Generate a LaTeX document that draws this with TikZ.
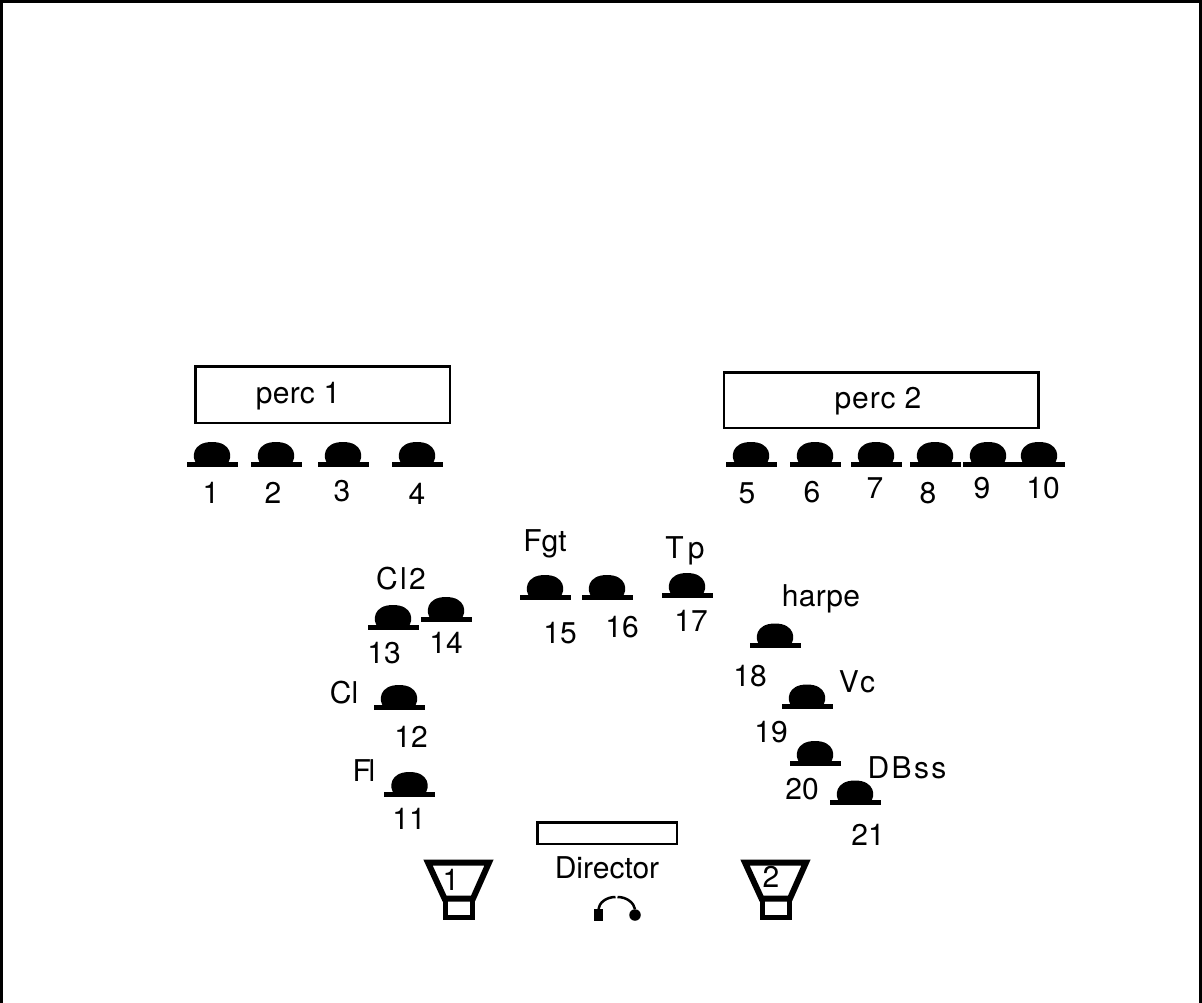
\documentclass[tikz,border=0pt]{standalone}
\usepackage{fontspec}
\setmainfont{TeX Gyre Heros}
\newcommand{\spaced}[2]{{\addfontfeature{LetterSpace=#1}#2}}

\begin{document}
\begin{tikzpicture}[
    x=1pt, y=-1pt,
    every node/.style = {inner sep=0pt, outer sep=0pt},
    T/.style = {font=\fontsize{30}{33}\selectfont, text height=21pt, text depth=0pt},% all texts
    P/.style = {rectangle, fill=black, minimum width=51pt, minimum height=5pt},% music stand
    R/.style = {rectangle, draw, line width=2.5pt},
    S/.style = {line width=6pt, miter limit=2},
                        ]
\useasboundingbox (0,0) rectangle (1202,1003);
\draw[line width=3pt] (1.5,1003) -- (1.5,1.5) -- (1200.5,1.5) -- (1200.5,1003);

%boxes
\node[R, minimum width=254.5pt, minimum height=56.5pt] (perc1) at (322.5,394.7) {};
\node[R, minimum width=314.5pt, minimum height=55.5pt] (perc2) at (881.3,400.2) {};
\node[R, minimum width=139.5pt, minimum height=21.5pt] (desk) at (607,833.3) {};
\node[T] at (298,393) {\spaced{1}{perc 1}};
\node[T] at (878,398) {\spaced{3}{perc 2}};
\node[T] (director) at (607,868) {Director};

%players: stand x / stand y / number / number x / number y
\foreach \x/\y/\n/\lx/\ly in {212/464/1/211/493, 276/464/2/273/493, 343/464/3/342/491,
    417/464/4/417/494, 751/464/5/747/492.5, 815/464/6/812/492, 876/464/7/875/488,
    935/464/8/928/492.5, 988/464/9/982/488, 1039/464/10/1043/488, 409.5/794/11/409/819,
    399/707/12/411/737, 393/627/13/384/653, 446/619/14/446/643, 545/597/15/560/632.5,
    607/597/16/622/627, 687/595/17/691/621, 775/645.5/18/750/676, 807/706.5/19/771/732,
    815/763/20/802/789, 855/802.5/21/868/835}
{
    \fill[shift={(\x,\y)}] (-15,0) .. controls (-21,-6) and (-20,-22) .. (0,-22)
        .. controls (20,-22) and (21,-6) .. (15,0) -- cycle;
    \node[P] (P-\n) at (\x,\y) {};
    \node[T] (N-\n) at (\lx,\ly) {\n};
}

%instruments
\foreach \t/\x/\y/\s in {{\spaced{8}{Cl2}}/401/579/a, Cl/344/693/b, {\spaced{-8}{Fl}}/364/771/c,
    Fgt/545/541/d, {\spaced{14}{Tp}}/685/548/e, {\spaced{1}{harpe}}/821/596/f,
    {\spaced{4}{Vc}}/857/682/g, {\spaced{8}{DBss}}/907/768/h}
    \node[T] (I-\s) at (\x,\y) {\t};

%speakers
\foreach \x/\n/\lx/\ly in {0/1/451/880, 317/2/771/877}
{
    \begin{scope}[xshift=\x pt]
    \draw[S] (428,862.5) -- (489,862.5) -- (473,898.5) -- (444.5,898.5) -- cycle;
    \draw[line width=5pt] (445.2,898.7) rectangle (472.5,917.5);
    \end{scope}
    \node[T] (L-\n) at (\lx,\ly) {\n};
}

%headphones
\node[rectangle, fill=black, minimum width=9pt, minimum height=12pt] (phoneA) at (598.5,915) {};
\node[circle, fill=black, minimum size=11.5pt] (phoneB) at (635,915) {};
\coordinate (phoneA') at (615.5,897);
\coordinate (phoneB') at (617.5,897);
\draw[line width=2.5pt] (phoneA.north) .. controls (599,903) and (606,897) .. (phoneA');
\draw[line width=2.5pt] (phoneB.north) .. controls (634,903) and (627,897) .. (phoneB');

\end{tikzpicture}
\end{document}
